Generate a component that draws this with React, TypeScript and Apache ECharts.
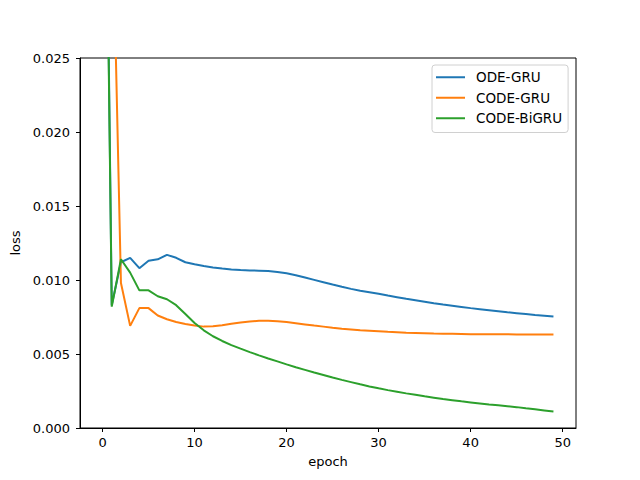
import React, { useEffect, useRef } from "react";
import * as echarts from "echarts";

const epochs: number[] = Array.from({ length: 50 }, (_, i) => i);

const odeGru: number[] = [
  0.06, 0.0083, 0.0112, 0.0115, 0.0108, 0.0113, 0.0114, 0.0117, 0.0115, 0.0112,
  0.01106, 0.01094, 0.01085, 0.01077, 0.01071, 0.01067, 0.01065, 0.01063, 0.0106, 0.01054,
  0.01045, 0.01032, 0.01017, 0.01001, 0.00985, 0.00969, 0.00954, 0.0094, 0.00927, 0.00917,
  0.00907, 0.00895, 0.00884, 0.00873, 0.00863, 0.00853, 0.00843, 0.00834, 0.00826, 0.00818,
  0.0081, 0.00803, 0.00796, 0.00789, 0.00782, 0.00776, 0.0077, 0.00764, 0.00759, 0.00754,
];

const codeGru: number[] = [
  0.08, 0.0375, 0.0098, 0.0069, 0.0081, 0.0081, 0.0076, 0.00735, 0.00716, 0.00703,
  0.00692, 0.00685, 0.00687, 0.00695, 0.00705, 0.00713, 0.0072, 0.00724, 0.00725, 0.00722,
  0.00716, 0.00708, 0.007, 0.00692, 0.00685, 0.00677, 0.0067, 0.00665, 0.0066, 0.00657,
  0.00654, 0.0065, 0.00647, 0.00644, 0.00642, 0.0064, 0.00638, 0.00637, 0.00636, 0.00635,
  0.00634, 0.00634, 0.00633, 0.00633, 0.00633, 0.00632, 0.00632, 0.00632, 0.00632, 0.00632,
];

const codeBiGru: number[] = [
  0.058, 0.0082, 0.0114, 0.0105, 0.0093, 0.0093, 0.0089, 0.0087, 0.0083, 0.0077,
  0.0071, 0.0066, 0.0062, 0.00588, 0.0056, 0.00536, 0.00513, 0.00491, 0.0047, 0.0045,
  0.0043, 0.00411, 0.00393, 0.00375, 0.00358, 0.00341, 0.00325, 0.0031, 0.00295, 0.00281,
  0.00268, 0.00256, 0.00245, 0.00234, 0.00224, 0.00214, 0.00205, 0.00196, 0.00188, 0.0018,
  0.00173, 0.00166, 0.00159, 0.00153, 0.00147, 0.00141, 0.00133, 0.00126, 0.00119, 0.00112,
];

const seriesNames = ["ODE-GRU", "CODE-GRU", "CODE-BiGRU"];
const colors = ["#1f77b4", "#ff7f0e", "#2ca02c"];
const xTicks = [0, 10, 20, 30, 40, 50];

const FONT = "DejaVu Sans";

export default function App() {
  const ref = useRef<HTMLDivElement>(null);
  useEffect(() => {
    if (!ref.current) return;
    const chart = echarts.init(ref.current, null, { renderer: "svg" });
    const all = [odeGru, codeGru, codeBiGru];
    chart.setOption({
      animation: false,
      backgroundColor: "#ffffff",
      textStyle: { fontFamily: FONT, color: "#000" },
      grid: {
        left: 80,
        right: 64,
        top: 58,
        bottom: 52,
        show: true,
        borderColor: "#000",
        borderWidth: 1,
        backgroundColor: "transparent",
      },
      legend: {
        orient: "vertical",
        left: 432,
        top: 65,
        padding: [5, 6, 7, 4],
        itemWidth: 29,
        itemHeight: 2,
        itemGap: 6,
        icon: "rect",
        backgroundColor: "#fff",
        borderColor: "#d0d0d0",
        borderWidth: 1,
        borderRadius: 3,
        textStyle: {
          fontFamily: FONT,
          fontSize: 13.5,
          color: "#000",
          lineHeight: 14.5,
          padding: [0, 0, 0, 6],
        },
        data: seriesNames,
      },
      xAxis: {
        type: "value",
        min: -2.45,
        max: 51.45,
        name: "epoch",
        nameLocation: "middle",
        nameGap: 27,
        nameTextStyle: { fontFamily: FONT, fontSize: 13, color: "#000" },
        axisLine: { show: true, onZero: false, lineStyle: { color: "#000", width: 1 } },
        axisTick: {
          show: true,
          length: 4,
          lineStyle: { color: "#000" },
          customValues: xTicks,
        },
        axisLabel: {
          fontFamily: FONT,
          fontSize: 13,
          color: "#000",
          margin: 8,
          customValues: xTicks,
        },
        splitLine: { show: false },
      },
      yAxis: {
        type: "value",
        min: 0,
        max: 0.025,
        interval: 0.005,
        name: "loss",
        nameLocation: "middle",
        nameGap: 57,
        nameRotate: 90,
        nameTextStyle: { fontFamily: FONT, fontSize: 13, color: "#000" },
        axisLine: { show: true, onZero: false, lineStyle: { color: "#000", width: 1 } },
        axisTick: { show: true, length: 4, lineStyle: { color: "#000" } },
        axisLabel: {
          fontFamily: FONT,
          fontSize: 13,
          color: "#000",
          margin: 10,
          formatter: (v: number) => v.toFixed(3),
        },
        splitLine: { show: false },
      },
      series: all.map((vals, k) => ({
        name: seriesNames[k],
        type: "line",
        data: epochs.map((e, i) => [e, vals[i]]),
        symbol: "none",
        clip: true,
        lineStyle: { color: colors[k], width: 2 },
        itemStyle: { color: colors[k] },
      })),
    });
    return () => chart.dispose();
  }, []);
  return (
    <div
      ref={ref}
      style={{ position: "fixed", left: 0, top: 0, width: 640, height: 480, background: "#fff" }}
    />
  );
}
